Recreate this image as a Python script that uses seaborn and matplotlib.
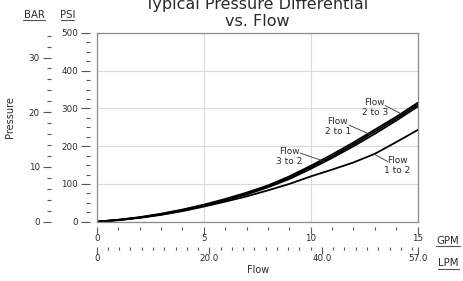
import numpy as np
import pandas as pd
import matplotlib
matplotlib.use("Agg")
import matplotlib.pyplot as plt
import seaborn as sns
from matplotlib.lines import Line2D
from matplotlib.ticker import MultipleLocator, FixedLocator, FixedFormatter

# ---------------- data ----------------
flow_gpm = [0, 1, 2, 3, 4, 5, 6, 7, 8, 9, 10, 11, 12, 13, 14, 15]
psi_2to3 = [0, 5, 12, 21, 32, 45, 60, 77, 96, 120, 148, 178, 210, 244, 278, 315]
psi_2to1 = [0, 5, 11, 20, 31, 44, 58, 75, 94, 117, 144, 173, 205, 239, 273, 310]
psi_3to2 = [0, 4, 11, 19, 29, 42, 56, 72, 91, 113, 140, 169, 200, 233, 268, 305]
psi_1to2 = [0, 4, 10, 18, 28, 40, 53, 67, 83, 100, 120, 138, 157, 180, 211, 243]
series_names = ["2 to 3", "2 to 1", "3 to 2", "1 to 2"]

gpm_ticks = [0, 5, 10, 15]
gpm_labels = ["0", "5", "10", "15"]
lpm_ticks = [0, 20, 40, 57]
lpm_labels = ["0", "20.0", "40.0", "57.0"]
psi_ticks = [0, 100, 200, 300, 400, 500]
bar_ticks = [0, 10, 20, 30]

LPM_PER_GPM = 3.8
PSI_PER_BAR = 14.5

# label anchor (text centre) and leader line start, in data units
label_text = {"2 to 3": (13.0, 302), "2 to 1": (11.27, 251),
              "3 to 2": (8.99, 173), "1 to 2": (14.06, 150)}
leader_start = {"2 to 3": (13.47, 308), "2 to 1": (11.79, 256),
                "3 to 2": (9.5, 182), "1 to 2": (13.61, 159)}
leader_end_x = {"2 to 3": 14.22, "2 to 1": 12.77, "3 to 2": 10.67, "1 to 2": 12.96}

series_vals = {"2 to 3": psi_2to3, "2 to 1": psi_2to1,
               "3 to 2": psi_3to2, "1 to 2": psi_1to2}

df = pd.concat([pd.DataFrame({"gpm": flow_gpm, "psi": series_vals[n], "series": n})
                for n in series_names], ignore_index=True)

# ---------------- style ----------------
sns.set_theme(style="white")
plt.rcParams["font.family"] = ["DejaVu Sans"]
TXT = "#2a2a2a"
TICK = "#555555"

W, H = 463, 281
fig = plt.figure(figsize=(W / 100, H / 100), dpi=100)
fig.patch.set_facecolor("white")

L, R, T, B = 96.7, 417.7, 33.0, 221.7
rect = [L / W, 1 - B / H, (R - L) / W, (B - T) / H]
ax = fig.add_axes(rect)

sns.lineplot(data=df, x="gpm", y="psi", hue="series",
             palette={n: "black" for n in series_names},
             estimator=None, lw=1.3, legend=False, ax=ax, zorder=3)

ax.set_xlim(0, 15)
ax.set_ylim(0, 500)
ax.set_xlabel("")
ax.set_ylabel("")

# grid
ax.xaxis.set_major_locator(FixedLocator(gpm_ticks))
ax.xaxis.set_major_formatter(FixedFormatter(gpm_labels))
ax.xaxis.set_minor_locator(MultipleLocator(1))
ax.yaxis.set_major_locator(FixedLocator(psi_ticks))
ax.yaxis.set_minor_locator(MultipleLocator(25))
ax.grid(True, which="major", color="#dadada", lw=0.8)
ax.set_axisbelow(True)

for s in ["top", "right"]:
    ax.spines[s].set_visible(False)
ax.spines["left"].set_position(("outward", 5))
ax.spines["bottom"].set_position(("outward", 3.6))
ax.spines["left"].set_visible(False)
ax.spines["bottom"].set_visible(False)

ax.tick_params(axis="y", which="major", left=True, length=6.5, width=0.8,
               color=TICK, pad=2, labelsize=6.3, labelcolor=TXT)
ax.tick_params(axis="y", which="minor", left=True, length=3, width=0.8, color=TICK)
ax.tick_params(axis="x", which="major", bottom=True, length=4.8, width=0.8,
               color=TICK, pad=0.8, labelsize=6.3, labelcolor=TXT)
ax.tick_params(axis="x", which="minor", bottom=True, length=1.8, width=0.8, color=TICK)

# BAR secondary axis
secy = ax.secondary_yaxis(-0.1433, functions=(lambda p: np.asarray(p) / PSI_PER_BAR,
                                               lambda b: np.asarray(b) * PSI_PER_BAR))
secy.yaxis.set_major_locator(FixedLocator(bar_ticks))
secy.yaxis.set_minor_locator(MultipleLocator(2))
for s in secy.spines.values():
    s.set_visible(False)
secy.tick_params(axis="y", which="major", left=True, length=5.8, width=0.8,
                 color=TICK, pad=2, labelsize=6.3, labelcolor=TXT)
secy.tick_params(axis="y", which="minor", left=True, length=2.9, width=0.8, color=TICK)

# LPM secondary axis
secx = ax.secondary_xaxis(-0.1323, functions=(lambda g: np.asarray(g) * LPM_PER_GPM,
                                               lambda l: np.asarray(l) / LPM_PER_GPM))
secx.xaxis.set_major_locator(FixedLocator(lpm_ticks))
secx.xaxis.set_major_formatter(FixedFormatter(lpm_labels))
secx.xaxis.set_minor_locator(MultipleLocator(2))
for s in secx.spines.values():
    s.set_visible(False)
secx.tick_params(axis="x", which="major", bottom=True, length=4.8, width=0.8,
                 color=TICK, pad=0.8, labelsize=6.3, labelcolor=TXT)
secx.tick_params(axis="x", which="minor", bottom=True, length=1.8, width=0.8, color=TICK)

# frame overlay
fr = fig.add_axes(rect, facecolor="none", zorder=5)
fr.set_xticks([])
fr.set_yticks([])
for s in fr.spines.values():
    s.set_visible(True)
    s.set_color("#8a8a8a")
    s.set_linewidth(0.9)

# curve labels with leader lines
for n in series_names:
    tx, ty = label_text[n]
    ax.text(tx, ty, "Flow\n" + n, ha="center", va="center", fontsize=6.5,
            color=TXT, linespacing=1.15, zorder=4)
    sx, sy = leader_start[n]
    ex = leader_end_x[n]
    ey = float(np.interp(ex, flow_gpm, series_vals[n]))
    ax.plot([sx, ex], [sy, ey], color="#333333", lw=0.6, zorder=4)

# titles and unit labels
fig.text(257 / W, 1 - 9 / H, "Typical Pressure Differential", ha="center",
         va="baseline", fontsize=11.5, color=TXT)
fig.text(257 / W, 1 - 26 / H, "vs. Flow", ha="center", va="baseline",
         fontsize=11.5, color=TXT)
fig.text(10 / W, 1 - 117 / H, "Pressure", rotation=90, ha="center", va="center",
         fontsize=7, color=TXT)
fig.text(258 / W, 1 - 270 / H, "Flow", ha="center", va="center", fontsize=7, color=TXT)


def unit_label(txt, cx, cy, x0, x1, uy):
    fig.text(cx / W, 1 - cy / H, txt, ha="center", va="center", fontsize=7.3, color=TXT)
    fig.add_artist(Line2D([x0 / W, x1 / W], [1 - uy / H, 1 - uy / H],
                          transform=fig.transFigure, color="#555555", lw=0.8))


unit_label("BAR", 34, 14.5, 23, 45, 19.5)
unit_label("PSI", 67.5, 14.5, 61, 74, 19.5)
unit_label("GPM", 448, 240.5, 436, 460, 245.5)
unit_label("LPM", 448.5, 263, 438, 459, 268.5)

fig.savefig("out.png", dpi=100, facecolor="white")
